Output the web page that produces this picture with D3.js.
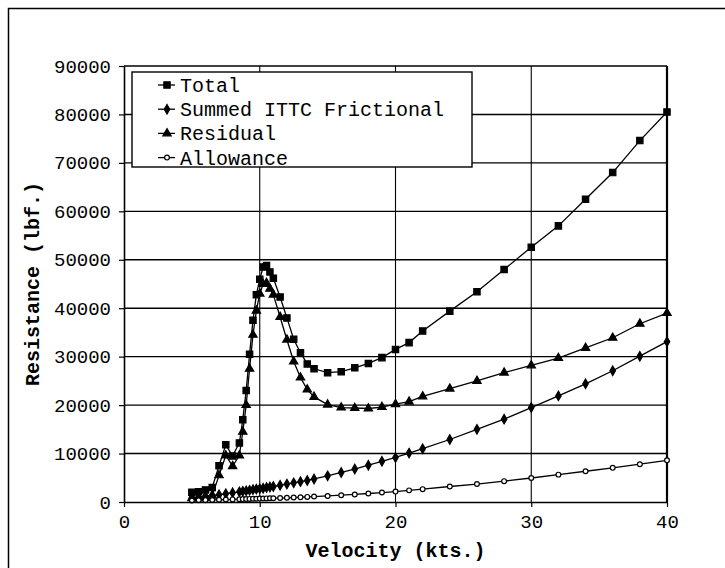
<!DOCTYPE html>
<html>
<head>
<meta charset="utf-8">
<script src="https://cdn.jsdelivr.net/npm/d3@7"></script>
<style>
  body { margin: 0; background: #fff; }
  text { font-family: "Liberation Mono", "Courier New", monospace; fill: #000; }
</style>
</head>
<body>
<div id="chart"></div>
<script>
var velocity = [5, 5.5, 6, 6.5, 7, 7.5, 8, 8.5, 8.75, 9, 9.25, 9.5, 9.75, 10, 10.25, 10.5, 10.75, 11, 11.5, 12, 12.5, 13, 13.5, 14,
                15, 16, 17, 18, 19, 20, 21, 22, 24, 26, 28, 30, 32, 34, 36, 38, 40];
var total = [2000, 2100, 2500, 3000, 7500, 11800, 9500, 12200, 17000, 23000, 30500, 37500, 42800, 46000, 48500, 48800, 47500, 46200, 42300, 38000, 33600, 30800, 28500, 27500,
             26700, 26900, 27700, 28600, 29800, 31500, 32900, 35300, 39400, 43400, 48000, 52600, 57000, 62500, 68000, 74600, 80500];
var frictional = [900, 1050, 1200, 1350, 1500, 1700, 1900, 2100, 2200, 2300, 2400, 2550, 2650, 2750, 2850, 3000, 3100, 3200, 3450, 3700, 3950, 4200, 4450, 4750,
                  5400, 6100, 6800, 7600, 8400, 9200, 10100, 11000, 12900, 15000, 17100, 19500, 21900, 24400, 27100, 30100, 33100];
var residual = [800, 700, 900, 1300, 5500, 9600, 7400, 9600, 14500, 20000, 27500, 34500, 39500, 43000, 45000, 45200, 44000, 42800, 38200, 33500, 29000, 25700, 23200, 21700,
                20100, 19500, 19400, 19300, 19600, 20200, 20700, 21800, 23400, 25000, 26700, 28200, 29700, 31800, 33900, 36800, 39000];
var allowance = [300, 350, 380, 420, 460, 500, 540, 580, 600, 620, 640, 660, 680, 700, 720, 740, 760, 780, 820, 870, 920, 980, 1050, 1120,
                 1250, 1400, 1560, 1750, 1950, 2150, 2400, 2650, 3200, 3700, 4300, 4950, 5650, 6350, 7050, 7800, 8600];
var seriesNames = ["Total", "Summed ITTC Frictional", "Residual", "Allowance"];
var xTicks = [0, 10, 20, 30, 40];
var yTicks = [0, 10000, 20000, 30000, 40000, 50000, 60000, 70000, 80000, 90000];

var width = 725;
var height = 568;
var margin = {left: 124, right: 58, top: 66, bottom: 66};

var svg = d3.select('#chart')
  .append('svg')
  .attr('width', width)
  .attr('height', height);

// outer chart frame (only left and top edges show in the scan)
svg.append('path')
  .attr('d', 'M8.5,' + height + 'V8.5H' + width)
  .attr('fill', 'none')
  .attr('stroke', '#000')
  .attr('stroke-width', 1.5);

var x = d3.scaleLinear().domain([0, 40]).range([margin.left, width - margin.right]);
var y = d3.scaleLinear().domain([0, 90000]).range([height - margin.bottom, margin.top]);

var g = svg.append('g');

// gridlines
g.selectAll('.hgrid')
  .data(yTicks.slice(1))
  .enter()
  .append('line')
  .attr('x1', x(0)).attr('x2', x(40))
  .attr('y1', function(d) { return y(d); })
  .attr('y2', function(d) { return y(d); })
  .attr('stroke', '#000')
  .attr('stroke-width', 1.4);

g.selectAll('.vgrid')
  .data(xTicks.slice(1, -1))
  .enter()
  .append('line')
  .attr('y1', y(0)).attr('y2', y(90000))
  .attr('x1', function(d) { return x(d); })
  .attr('x2', function(d) { return x(d); })
  .attr('stroke', '#000')
  .attr('stroke-width', 1.1);

g.append('line')
  .attr('x1', x(40)).attr('x2', x(40))
  .attr('y1', y(0)).attr('y2', y(90000))
  .attr('stroke', '#000')
  .attr('stroke-width', 2.2);

// axes
var yAxis = d3.axisLeft(y).tickValues(yTicks).tickSize(5).tickSizeOuter(0).tickPadding(8)
  .tickFormat(d3.format('d'));
var xAxis = d3.axisBottom(x).tickValues(xTicks).tickSize(5).tickSizeOuter(0).tickPadding(8)
  .tickFormat(d3.format('d'));

var ya = svg.append('g')
  .attr('transform', 'translate(' + x(0) + ',0)')
  .call(yAxis);
var xa = svg.append('g')
  .attr('transform', 'translate(0,' + y(0) + ')')
  .call(xAxis);

[ya, xa].forEach(function(a) {
  a.select('.domain').attr('stroke', '#000').attr('stroke-width', 1.6);
  a.selectAll('.tick line').attr('stroke', '#000').attr('stroke-width', 1.2);
  a.selectAll('text')
    .style('font-family', '"Liberation Mono", "Courier New", monospace')
    .style('font-size', '19px')
    .attr('fill', '#000');
});

// axis titles
svg.append('text')
  .attr('x', (x(0) + x(40)) / 2)
  .attr('y', y(0) + 55)
  .attr('text-anchor', 'middle')
  .style('font-size', '20px')
  .style('font-weight', 'bold')
  .text('Velocity (kts.)');

svg.append('text')
  .attr('transform', 'translate(39,' + ((y(0) + y(90000)) / 2) + ') rotate(-90)')
  .attr('text-anchor', 'middle')
  .style('font-size', '20px')
  .style('font-weight', 'bold')
  .text('Resistance (lbf.)');

// series
var series = [
  {name: seriesNames[0], values: total, symbol: d3.symbolSquare, size: 40, fill: '#000'},
  {name: seriesNames[1], values: frictional, symbol: d3.symbolDiamond, size: 26, fill: '#000'},
  {name: seriesNames[2], values: residual, symbol: d3.symbolTriangle, size: 30, fill: '#000'},
  {name: seriesNames[3], values: allowance, symbol: d3.symbolCircle, size: 18, fill: '#fff'}
];

var line = d3.line()
  .x(function(d) { return x(d[0]); })
  .y(function(d) { return y(d[1]); });

series.forEach(function(s) {
  var pts = velocity.map(function(v, i) { return [v, s.values[i]]; });
  g.append('path')
    .attr('d', line(pts))
    .attr('fill', 'none')
    .attr('stroke', '#000')
    .attr('stroke-width', 1.3);
  g.selectAll(null)
    .data(pts)
    .enter()
    .append('path')
    .attr('transform', function(d) { return 'translate(' + x(d[0]) + ',' + y(d[1]) + ')'; })
    .attr('d', d3.symbol().type(s.symbol).size(s.size))
    .attr('fill', s.fill)
    .attr('stroke', '#000')
    .attr('stroke-width', 1.2);
});

// legend
var legendX = 132;
var legendY = 72;
var legendW = 340;
var legendH = 95;
var legend = svg.append('g').attr('class', 'legend');

legend.append('rect')
  .attr('x', legendX)
  .attr('y', legendY)
  .attr('width', legendW)
  .attr('height', legendH)
  .attr('fill', '#fff')
  .attr('stroke', '#000')
  .attr('stroke-width', 1.4);

var item = legend.selectAll('.item')
  .data(series)
  .enter()
  .append('g')
  .attr('transform', function(d, i) { return 'translate(' + legendX + ',' + (legendY + 13 + i * 24.2) + ')'; });

item.append('line')
  .attr('x1', 26).attr('x2', 43)
  .attr('stroke', '#000')
  .attr('stroke-width', 1.3);

item.append('path')
  .attr('transform', 'translate(35,0)')
  .attr('d', function(d) { return d3.symbol().type(d.symbol).size(d.size)(); })
  .attr('fill', function(d) { return d.fill; })
  .attr('stroke', '#000')
  .attr('stroke-width', 1.2);

item.append('text')
  .attr('x', 48)
  .attr('dy', '.35em')
  .style('font-size', '20px')
  .text(function(d) { return d.name; });
</script>
</body>
</html>
